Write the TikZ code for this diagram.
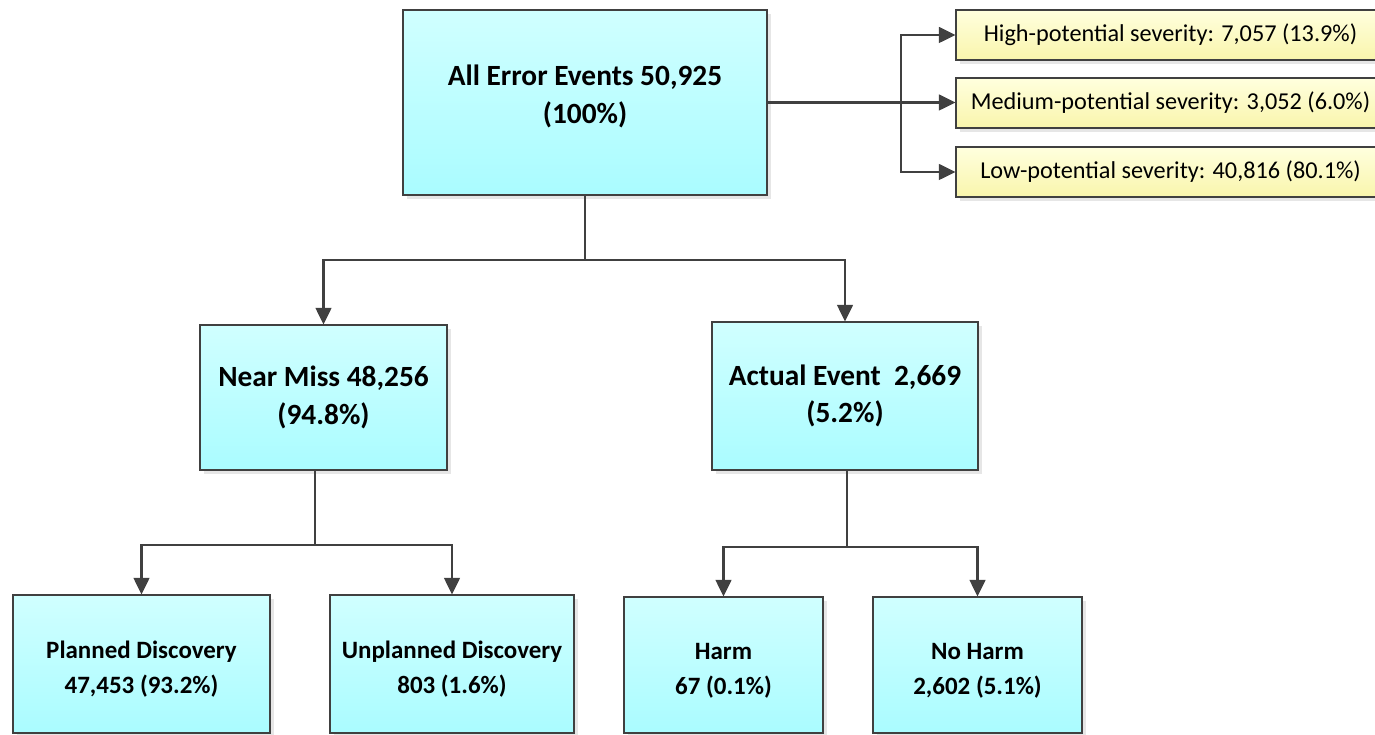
\documentclass[tikz,border=0pt]{standalone}
\usepackage{fontspec}
\setmainfont{Carlito}
\usepackage{tikz}
\usetikzlibrary{arrows.meta,shadows}

\definecolor{cyantop}{RGB}{208,255,255}
\definecolor{cyanbot}{RGB}{170,252,255}
\definecolor{yeltop}{RGB}{255,255,222}
\definecolor{yelbot}{RGB}{249,245,172}
\definecolor{linegray}{RGB}{64,64,64}

\begin{document}
\begin{tikzpicture}[
cyanbox/.style={rectangle, draw=linegray, line width=0.6pt, top color=cyantop, bottom color=cyanbot, align=center, font=\fontsize{16.7}{21.5}\selectfont\bfseries, drop shadow={shadow xshift=2.5pt, shadow yshift=-2.5pt, opacity=0.2, fill=gray}},
smallcyanbox/.style={cyanbox, font=\fontsize{14.2}{20}\selectfont\bfseries},
yellowbox/.style={rectangle, draw=linegray, line width=0.6pt, top color=yeltop, bottom color=yelbot, minimum width=8.58cm, minimum height=1cm, font=\fontsize{13.8}{16}\selectfont, drop shadow={shadow xshift=2.5pt, shadow yshift=-2.5pt, opacity=0.2, fill=gray}},
conn/.style={draw=linegray, line width=1.3pt, -{Triangle[length=9.5pt,width=9pt]}}
]
\useasboundingbox (0,0) rectangle (27.5,-14.7);
%Nodes
\node[cyanbox, minimum width=7.28cm, minimum height=3.7cm] at (11.7,-2.05) (all) {All Error Events 50,925\\(100\%)\\[-12pt]};

\node[yellowbox] at (23.41,-0.7) (high) {High-potential severity: 7,057 (13.9\%)};
\node[yellowbox] at (23.41,-2.06) (med) {Medium-potential severity: 3,052 (6.0\%)};
\node[yellowbox] at (23.41,-3.44) (low) {Low-potential severity: 40,816 (80.1\%)};

\node[cyanbox, minimum width=4.94cm, minimum height=2.9cm] at (6.47,-7.95) (near) {Near Miss 48,256\\(94.8\%)};
\node[cyanbox, minimum width=5.32cm, minimum height=2.96cm] at (16.9,-7.92) (actual) {Actual Event\ \ 2,669\\(5.2\%)};

\node[smallcyanbox, minimum width=5.14cm, minimum height=2.76cm] at (2.83,-13.28) (planned) {\mbox{}\\[-4pt]Planned Discovery\\47,453 (93.2\%)};
\node[smallcyanbox, minimum width=4.88cm, minimum height=2.76cm] at (9.04,-13.28) (unplanned) {\mbox{}\\[-4pt]Unplanned Discovery\\803 (1.6\%)};
\node[smallcyanbox, minimum width=3.98cm, minimum height=2.72cm] at (14.47,-13.3) (harm) {\mbox{}\\[-4pt]Harm\\67 (0.1\%)};
\node[smallcyanbox, minimum width=4.18cm, minimum height=2.72cm] at (19.55,-13.3) (noharm) {\mbox{}\\[-4pt]No Harm\\2,602 (5.1\%)};

\coordinate (sev) at (18.02,-2.05);
\coordinate (split) at (11.7,-5.2);
\coordinate (nearsplit) at (6.3,-10.9);
\coordinate (actsplit) at (16.94,-10.94);

%Lines
\draw[conn] (all.east) -- (all.east -| med.west);
\draw[conn] (sev) |- (high.west);
\draw[conn] (sev) |- (low.west);

\draw[draw=linegray, line width=1.3pt] (all.south) -- (split);
\draw[conn] (split) -| (near.north);
\draw[conn] (split) -| (actual.north);

\draw[draw=linegray, line width=1.3pt] (near.south -| nearsplit) -- (nearsplit);
\draw[conn] (nearsplit) -| (planned.north);
\draw[conn] (nearsplit) -| (unplanned.north);

\draw[draw=linegray, line width=1.3pt] (actual.south -| actsplit) -- (actsplit);
\draw[conn] (actsplit) -| (harm.north);
\draw[conn] (actsplit) -| (noharm.north);

\end{tikzpicture}
\end{document}
